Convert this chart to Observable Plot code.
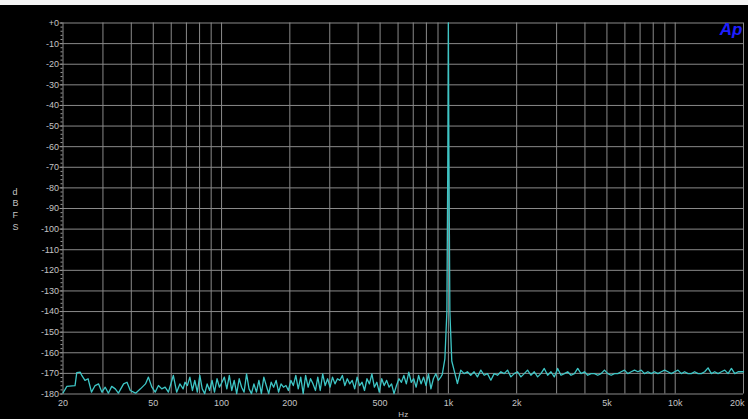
<!DOCTYPE html>
<html>
<head>
<meta charset="utf-8">
<script src="https://cdn.jsdelivr.net/npm/d3@7"></script>
<script src="https://cdn.jsdelivr.net/npm/@observablehq/plot@0.6"></script>
<style>
html, body { margin: 0; padding: 0; background: #000; }
#top { height: 5px; background: #f4f4f4; }
#chart svg { display: block; }
</style>
</head>
<body>
<div id="top"></div>
<div id="chart"></div>
<script>
// ---- Data ----
// 20 Hz – 68 Hz noise floor
const bandAFreq = [20.0, 20.8, 22.6, 23.0, 23.8, 24.2, 25.0, 25.8, 26.7, 27.7, 28.7, 29.7, 30.7, 31.7, 32.8, 34.0, 35.1, 37.0, 38.3, 39.6, 41.8, 43.9, 46.2, 47.6, 49.3, 51.0, 52.7, 54.5, 56.4, 58.3, 61.3, 63.4, 65.5, 67.7];
const bandADb = [-179.5, -176.3, -175.9, -169.6, -169.4, -171.0, -173.4, -172.6, -179.1, -175.9, -175.1, -179.1, -176.7, -179.6, -176.3, -177.5, -179.6, -175.1, -174.3, -178.3, -179.6, -177.5, -175.1, -171.8, -176.7, -179.1, -175.9, -177.5, -176.7, -179.1, -171.0, -179.1, -175.1, -177.5];

// 69 Hz – 260 Hz noise floor
const bandBFreq = [69, 70.7, 72.5, 74.4, 76.2, 78.2, 80.2, 82.2, 84.3, 86.4, 88.6, 90.8, 93.1, 95.5, 97.9, 100.4, 102.9, 105.5, 108.2, 110.9, 113.7, 116.6, 119.6, 122.6, 125.7, 128.9, 132.2, 135.5, 138.9, 142.5, 146.1, 149.8, 153.6, 157.4, 161.4, 165.5, 169.7, 174.0, 178.4, 182.9, 187.5, 192.3, 197.1, 202.1, 207.2, 212.5, 217.8, 223.4, 229.0, 234.8, 240.8, 246.8, 253.1, 259.5];
const bandBDb = [
  -174.3, -175.9, -171.8, -178.3, -173.4, -179.1, -171.0, -177.5, -179.8, -175.1,
  -178.3, -173.4, -179.1, -172.6, -176.7, -174.3, -171.8, -177.5, -171.0, -178.3,
  -173.4, -179.8, -172.6, -176.7, -179.1, -170.2, -177.5, -179.8, -175.1, -179.1,
  -173.4, -179.8, -171.8, -175.9, -179.8, -174.3, -176.7, -173.4, -179.1, -175.1,
  -176.7, -175.9, -178.3, -173.4, -175.9, -171.0, -177.5, -171.8, -179.8, -171.0,
  -176.7, -172.6, -175.1, -178.3];

// 265 Hz – 925 Hz noise floor
const bandCFreq = [265.6, 272.3, 279.2, 286.3, 293.5, 300.9, 308.5, 316.3, 324.3, 332.5, 340.9, 349.5, 358.4, 367.4, 376.7, 386.3, 396.0, 406.0, 416.3, 426.8, 437.6, 448.7, 460.0, 471.7, 483.6, 495.8, 508.3, 521.2, 534.4, 547.9, 561.7, 575.9, 590.5, 605.4, 620.7, 636.4, 652.5, 669.0, 685.9, 703.3, 721.0, 739.3, 758.0, 777.1, 796.8, 816.9, 837.6, 858.7, 880.4, 902.7, 925.5];
const bandCDb = [
  -171.8, -178.3, -170.2, -175.9, -172.6, -176.7, -171.8, -175.1, -172.6, -173.4,
  -171.0, -175.9, -172.6, -175.1, -173.4, -177.5, -171.8, -175.9, -174.3, -178.3,
  -172.6, -175.1, -170.2, -176.7, -174.3, -179.1, -172.6, -175.9, -173.4, -176.7,
  -175.1, -179.8, -175.9, -172.6, -174.3, -171.0, -175.1, -169.4, -174.3, -172.6,
  -176.7, -171.0, -175.1, -171.8, -175.9, -170.2, -177.5, -172.6, -170.2, -173.4,
  -171.8];

// 1 kHz test tone
const toneFreq = [940, 965, 985, 995, 1000, 1005, 1015, 1035, 1060];
const toneDb = [-170.5, -163, -140, -60, 0, -60, -140, -164, -168.5];

// 1.1 kHz – 20 kHz noise floor
const bandDFreq = [1096, 1134, 1173, 1213, 1255, 1298, 1343, 1390, 1438, 1487, 1539, 1592, 1647, 1704, 1762, 1823, 1886, 1951, 2018, 2088, 2160, 2234, 2311, 2391, 2474, 2559, 2647, 2739, 2833, 2931, 3032, 3137, 3245, 3357, 3473, 3593, 3717, 3845, 3978, 4115, 4257, 4404, 4556, 4713, 4876, 5044, 5218, 5398, 5585, 5777, 5977, 6183, 6396, 6617, 6845, 7081, 7326, 7578, 7840, 8110, 8390, 8680, 8979, 9289, 9609, 9941, 10284, 10639, 11006, 11385, 11778, 12184, 12605, 13040, 13489, 13955, 14436, 14934, 15449, 15982, 16534, 17104, 17694, 18305, 18936, 19589, 20000];
const bandDDb = [
  -174.9, -168.4, -170.1, -169.2, -170.9, -169.2, -171.7, -168.4, -170.9, -170.1,
  -173.3, -170.1, -170.9, -169.2, -170.1, -168.4, -171.7, -170.1, -169.2, -171.7,
  -170.1, -168.4, -170.9, -169.2, -171.7, -170.1, -167.6, -170.9, -169.2, -171.7,
  -167.6, -170.9, -170.1, -169.2, -170.9, -170.1, -167.6, -170.1, -169.2, -170.9,
  -170.1, -170.1, -170.9, -170.1, -168.4, -170.1, -170.9, -170.1, -170.1, -169.2,
  -168.4, -170.1, -169.2, -168.4, -169.2, -168.4, -170.1, -169.2, -170.1, -169.2,
  -170.1, -169.2, -168.4, -169.2, -170.1, -169.2, -168.4, -170.1, -169.2, -170.1,
  -170.1, -169.2, -170.1, -170.1, -169.2, -167.3, -170.1, -169.2, -170.1, -169.2,
  -168.4, -170.1, -167.6, -170.1, -169.2, -169.2, -169.2];

// Axes
const xGridValues = [20, 30, 40, 50, 60, 70, 80, 90, 100, 200, 300, 400, 500, 600, 700, 800, 900, 1000, 2000, 3000, 4000, 5000, 6000, 7000, 8000, 9000, 10000, 20000];
const xLabelValues = [20, 50, 100, 200, 500, 1000, 2000, 5000, 10000, 20000];
const xLabelTexts = ["20", "50", "100", "200", "500", "1k", "2k", "5k", "10k", "20k"];
const yTickValues = [0, -10, -20, -30, -40, -50, -60, -70, -80, -90, -100, -110, -120, -130, -140, -150, -160, -170, -180];
const yTickTexts = ["+0", "-10", "-20", "-30", "-40", "-50", "-60", "-70", "-80", "-90", "-100", "-110", "-120", "-130", "-140", "-150", "-160", "-170", "-180"];
const yMinorValues = d3.range(-180, 1, 2);

// ---- Build tables ----
const trace = [];
[[bandAFreq, bandADb], [bandBFreq, bandBDb], [bandCFreq, bandCDb], [toneFreq, toneDb], [bandDFreq, bandDDb]]
  .forEach(([fs, ds]) => fs.forEach((f, i) => trace.push({f, db: ds[i]})));

const xLabels = xLabelValues.map((v, i) => ({v, t: xLabelTexts[i]}));
const yLabelMap = new Map(yTickValues.map((v, i) => [v, yTickTexts[i]]));

const gridColor = "#8a8a8a";
const textColor = "#c4c4c4";

const chart = Plot.plot({
  width: 748,
  height: 414,
  marginLeft: 62.5,
  marginRight: 5,
  marginTop: 17.5,
  marginBottom: 25.5,
  style: {background: "#000", color: textColor, fontFamily: "'Liberation Sans', Arial, sans-serif", fontSize: "9px"},
  x: {type: "log", domain: [20, 20000], axis: null, label: null},
  y: {domain: [-180, 0], axis: null, label: null},
  marks: [
    Plot.gridX(xGridValues, {stroke: gridColor, strokeOpacity: 1, strokeWidth: 1}),
    Plot.gridY(yTickValues, {stroke: gridColor, strokeOpacity: 1, strokeWidth: 1}),
    Plot.axisY(yMinorValues, {tickSize: 2, tickFormat: () => "", stroke: "#9a9a9a", label: null}),
    Plot.axisY(yTickValues, {tickSize: 3, tickPadding: 1, tickFormat: d => yLabelMap.get(d), stroke: "#9a9a9a", fill: textColor, label: null}),
    Plot.text(xLabels.slice(0, -1), {x: "v", text: "t", frameAnchor: "bottom", lineAnchor: "top", dy: 6, fill: textColor, fontSize: 9}),
    Plot.text(xLabels.slice(-1), {x: "v", text: "t", frameAnchor: "bottom", lineAnchor: "top", textAnchor: "end", dx: 1, dy: 6, fill: textColor, fontSize: 9}),
    Plot.text(["Hz"], {frameAnchor: "bottom", lineAnchor: "bottom", dy: 23, fill: textColor, fontSize: 8}),
    Plot.text(["d\nB\nF\nS"], {frameAnchor: "left", dx: -50.5, lineHeight: 1.3, fill: textColor, fontSize: 9}),
    Plot.line(trace, {x: "f", y: "db", stroke: "#3ec6c6", strokeWidth: 1.3}),
    Plot.text(["Ap"], {frameAnchor: "top-right", textAnchor: "end", lineAnchor: "top", dx: -1, dy: 0, fill: "#1e1eff", fontSize: 17, fontWeight: "bold", fontStyle: "italic"})
  ]
});
document.getElementById("chart").appendChild(chart);
</script>
</body>
</html>
